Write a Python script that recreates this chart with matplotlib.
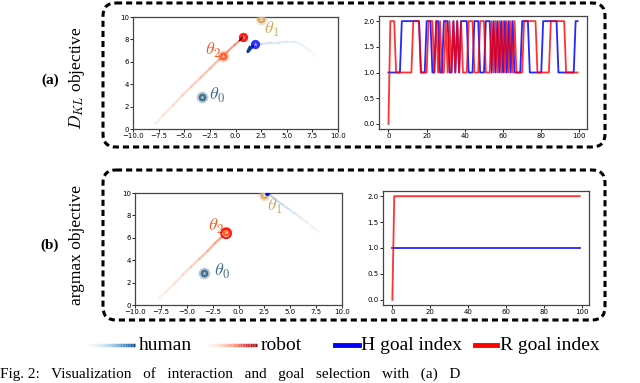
import numpy as np
import matplotlib
matplotlib.use("Agg")
import matplotlib.pyplot as plt
from matplotlib.collections import LineCollection
from matplotlib.patches import FancyBboxPatch

plt.rcParams['mathtext.fontset'] = 'cm'

# goal positions (x, y) and colours
goal_x = [-3.3, 2.5, -1.2]
goal_y = [2.9, 9.8, 6.5]
goal_names = [r'$\theta_0$', r'$\theta_1$', r'$\theta_2$']
goal_colors = ['#3f6a8c', '#d6a865', '#ff5a1f']

# (a) D_KL objective trajectories
robot_a_x = [-7.8, -7.0, -6.1, -5.2, -4.3, -3.4, -2.5, -1.6, -0.8, -0.1, 0.4, 0.7]
robot_a_y = [0.5, 1.3, 2.1, 3.0, 3.8, 4.6, 5.4, 6.2, 6.9, 7.5, 7.9, 8.2]
human_a_x = [7.8, 7.2, 6.5, 5.8, 5.0, 4.2, 3.4, 2.6, 1.9, 1.4, 1.2, 1.5, 1.9]
human_a_y = [6.5, 7.0, 7.5, 7.8, 7.8, 7.7, 7.7, 7.6, 7.5, 7.3, 6.9, 7.2, 7.6]

# (b) argmax objective trajectories
robot_b_x = [-7.8, -7.0, -6.2, -5.4, -4.6, -3.8, -3.0, -2.3, -1.7, -1.2]
robot_b_y = [0.5, 1.2, 1.9, 2.7, 3.4, 4.1, 4.8, 5.5, 6.0, 6.4]
human_b_x = [7.8, 7.2, 6.6, 6.0, 5.4, 4.8, 4.2, 3.6, 3.1, 2.8]
human_b_y = [6.5, 6.9, 7.4, 7.8, 8.2, 8.6, 9.0, 9.4, 9.8, 10.0]

# goal index over time, (a)
h_goal_a = [1, 1, 1, 1, 1, 1, 1, 2, 2, 2, 2, 2, 2, 2, 2, 2, 2, 1, 1, 1,
            2, 2, 2, 1, 1, 2, 2, 1, 1, 2, 2, 2, 1, 1, 2, 1, 2, 1, 2, 2,
            2, 2, 1, 1, 1, 2, 2, 2, 1, 1, 1, 2, 2, 2, 1, 2, 1, 2, 1, 2,
            1, 2, 1, 2, 1, 2, 1, 1, 1, 1, 2, 2, 2, 2, 1, 1, 1, 1, 1, 1,
            1, 2, 2, 2, 2, 2, 2, 2, 2, 1, 1, 1, 1, 1, 1, 1, 1, 1, 2, 2]
r_goal_a = [0, 2, 2, 2, 1, 1, 1, 1, 1, 1, 1, 1, 1, 2, 2, 2, 2, 1, 1, 1,
            1, 2, 2, 2, 1, 2, 1, 2, 1, 1, 2, 1, 2, 1, 2, 1, 2, 1, 2, 1,
            1, 1, 2, 2, 2, 1, 1, 1, 2, 2, 2, 1, 1, 1, 2, 1, 2, 1, 2, 1,
            2, 1, 2, 1, 2, 1, 2, 1, 1, 1, 1, 2, 2, 2, 2, 2, 2, 2, 1, 1,
            1, 1, 1, 1, 1, 2, 2, 2, 2, 2, 2, 2, 2, 1, 1, 1, 1, 1, 1, 1]

# goal index over time, (b)
h_goal_b = [1, 1, 1, 1, 1, 1, 1, 1, 1, 1, 1, 1, 1, 1, 1, 1, 1, 1, 1, 1,
            1, 1, 1, 1, 1, 1, 1, 1, 1, 1, 1, 1, 1, 1, 1, 1, 1, 1, 1, 1,
            1, 1, 1, 1, 1, 1, 1, 1, 1, 1, 1, 1, 1, 1, 1, 1, 1, 1, 1, 1,
            1, 1, 1, 1, 1, 1, 1, 1, 1, 1, 1, 1, 1, 1, 1, 1, 1, 1, 1, 1,
            1, 1, 1, 1, 1, 1, 1, 1, 1, 1, 1, 1, 1, 1, 1, 1, 1, 1, 1, 1]
r_goal_b = [0, 2, 2, 2, 2, 2, 2, 2, 2, 2, 2, 2, 2, 2, 2, 2, 2, 2, 2, 2,
            2, 2, 2, 2, 2, 2, 2, 2, 2, 2, 2, 2, 2, 2, 2, 2, 2, 2, 2, 2,
            2, 2, 2, 2, 2, 2, 2, 2, 2, 2, 2, 2, 2, 2, 2, 2, 2, 2, 2, 2,
            2, 2, 2, 2, 2, 2, 2, 2, 2, 2, 2, 2, 2, 2, 2, 2, 2, 2, 2, 2,
            2, 2, 2, 2, 2, 2, 2, 2, 2, 2, 2, 2, 2, 2, 2, 2, 2, 2, 2, 2]


def trail(ax, xs, ys, cmap, lo, hi, lw):
    pts = np.column_stack([xs, ys])
    segs = np.stack([pts[:-1], pts[1:]], axis=1)
    fade = np.linspace(lo, hi, len(segs))
    cols = plt.get_cmap(cmap)(fade)
    cols[:, 3] = np.linspace(0.35, 0.9, len(segs))
    ax.add_collection(LineCollection(segs, colors=cols, linewidths=lw, capstyle='round'))


def style_axes(ax):
    ax.tick_params(labelsize=5, length=2, width=0.6, pad=1)
    for s in ax.spines.values():
        s.set_linewidth(0.9)
        s.set_color('#444444')


def goals(ax, label_pos):
    for i in range(3):
        ax.scatter(goal_x[i], goal_y[i], s=70, color=goal_colors[i], alpha=0.35, zorder=4, lw=0)
        ax.scatter(goal_x[i], goal_y[i], s=30, color=goal_colors[i], zorder=5, lw=0)
        ax.scatter(goal_x[i], goal_y[i], s=14, marker='*', color='white', lw=0, alpha=0.6, zorder=6)
        ax.text(label_pos[i][0], label_pos[i][1], goal_names[i], color=goal_colors[i],
                fontsize=13, ha='left', va='center', zorder=7)


def traj_axes(ax):
    ax.set_xlim(-10, 10)
    ax.set_ylim(0, 10)
    ax.set_xticks([-10, -7.5, -5, -2.5, 0, 2.5, 5, 7.5, 10])
    ax.set_xticklabels(['\u221210.0', '\u22127.5', '\u22125.0', '\u22122.5', '0.0',
                        '2.5', '5.0', '7.5', '10.0'])
    ax.set_yticks([0, 2, 4, 6, 8, 10])
    style_axes(ax)


def index_axes(ax, h, r):
    t = np.arange(len(h))
    ax.plot(t, h, color='blue', lw=1.3, alpha=0.85)
    ax.plot(t, r, color='red', lw=1.3, alpha=0.8)
    ax.set_xticks([0, 20, 40, 60, 80, 100])
    ax.set_yticks([0, 0.5, 1.0, 1.5, 2.0])
    ax.set_ylim(-0.1, 2.1)
    style_axes(ax)


fig = plt.figure(figsize=(6.4, 3.83), dpi=100)
W, H = 640.0, 383.0


def fig_axes(l, r, t, b):
    return fig.add_axes([l / W, 1 - b / H, (r - l) / W, (b - t) / H])


# overlay in pixel coordinates for boxes and legend
lx = fig.add_axes([0, 0, 1, 1], facecolor='none', zorder=-1)
lx.set_xlim(0, W)
lx.set_ylim(H, 0)
lx.axis('off')

# dashed rounded boxes
for top, bot in [(3, 147), (170, 320)]:
    box = FancyBboxPatch((103, top), 502, bot - top,
                         boxstyle='round,pad=0,rounding_size=13',
                         fill=False, ec='black', lw=2.2, ls=(0, (2, 1.3)))
    lx.add_patch(box)

# (a)
ax1 = fig_axes(133, 338, 17, 129)
trail(ax1, robot_a_x, robot_a_y, 'Reds', 0.2, 0.45, 1.6)
trail(ax1, human_a_x, human_a_y, 'Blues', 0.15, 0.35, 1.6)
goals(ax1, [(-2.6, 3.0), (2.8, 8.9), (-3.0, 7.0)])
ax1.plot(human_a_x[-4:], human_a_y[-4:], color='#0b3d91', lw=2.0, zorder=6)
ax1.scatter(human_a_x[-1], human_a_y[-1], s=45, color='blue', alpha=0.8, zorder=7, lw=0)
ax1.scatter(human_a_x[-1], human_a_y[-1], s=14, marker='*', color='white', alpha=0.6, zorder=8, lw=0)
ax1.scatter(robot_a_x[-1], robot_a_y[-1], s=45, color='red', alpha=0.9, zorder=7, lw=0)
ax1.scatter(robot_a_x[-1], robot_a_y[-1], s=14, marker='*', color='white', alpha=0.5, zorder=8, lw=0)
ax1.plot(robot_a_x[-2:], robot_a_y[-2:], color='black', lw=0.8, zorder=8)
traj_axes(ax1)

ax2 = fig_axes(379, 587, 16, 129)
index_axes(ax2, h_goal_a, r_goal_a)

# (b)
ax3 = fig_axes(135, 342, 193, 305)
trail(ax3, robot_b_x, robot_b_y, 'Reds', 0.15, 0.4, 1.6)
trail(ax3, human_b_x, human_b_y, 'Blues', 0.15, 0.35, 1.6)
goals(ax3, [(-2.4, 3.0), (2.8, 8.8), (-2.9, 7.0)])
ax3.scatter(robot_b_x[-1], robot_b_y[-1], s=50, facecolor='none', edgecolor='red', lw=1.2, zorder=8)
ax3.scatter(human_b_x[-1], human_b_y[-1], s=12, color='blue', zorder=8, lw=0)
traj_axes(ax3)

ax4 = fig_axes(383, 589, 191, 305)
index_axes(ax4, h_goal_b, r_goal_b)

# row labels
serif = 'Liberation Serif'
fig.text(50 / W, 1 - 80 / H, '(a)', fontsize=11, fontweight='bold', family=serif, ha='center', va='center')
fig.text(77 / W, 1 - 78 / H, r'$D_{KL}$ objective', fontsize=12.5, family=serif, rotation=90, ha='center', va='center')
fig.text(50 / W, 1 - 245 / H, '(b)', fontsize=11, fontweight='bold', family=serif, ha='center', va='center')
fig.text(77 / W, 1 - 245 / H, 'argmax objective', fontsize=12.5, family=serif, rotation=90, ha='center', va='center')

# legend row
lg = fig.add_axes([0, 0, 1, 1], facecolor='none')
lg.set_xlim(0, W)
lg.set_ylim(H, 0)
lg.axis('off')
ly = 345
for x0, x1, cmap in [(88, 135, 'Blues'), (208, 257, 'Reds')]:
    xs = np.linspace(x0, x1, 30)
    segs = [[(xs[i], ly), (xs[i + 1], ly)] for i in range(len(xs) - 1)]
    cols = plt.get_cmap(cmap)(np.linspace(0.1, 0.9, len(segs)))
    cols[:, 3] = np.linspace(0.3, 1, len(segs))
    lg.add_collection(LineCollection(segs, colors=cols, linewidths=2.5))
lg.plot([335, 359], [ly, ly], color='blue', lw=3.5)
lg.plot([475, 497], [ly, ly], color='red', lw=3.5)
for x, s in [(139, 'human'), (261, 'robot'), (361, 'H goal index'), (500, 'R goal index')]:
    lg.text(x, ly, s, fontsize=14, family=serif, ha='left', va='center')

# caption at the bottom edge
fig.text(0.0, 2 / H, 'Fig. 2:   Visualization   of   interaction   and   goal   selection   with   (a)   D',
         fontsize=11, family=serif, ha='left', va='bottom')

fig.savefig('out.png', dpi=100)
